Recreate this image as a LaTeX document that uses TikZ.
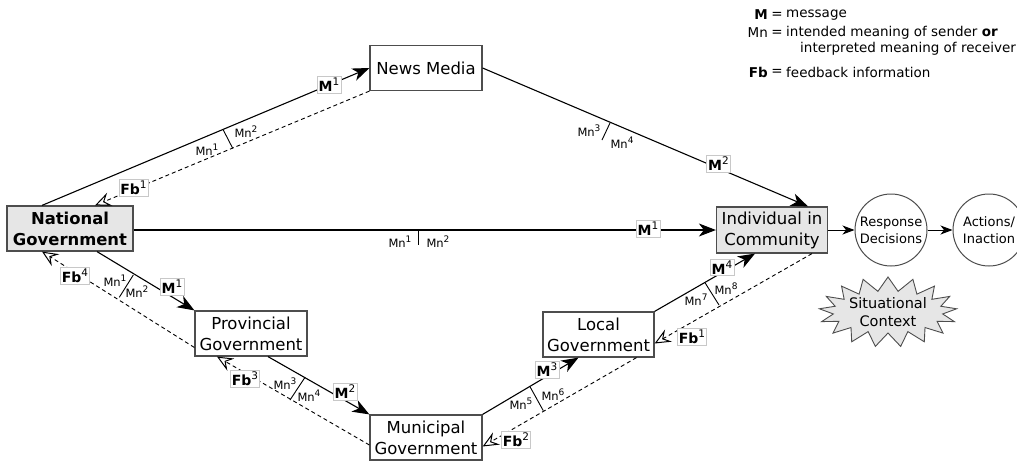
\documentclass[tikz,border=0pt]{standalone}
\usepackage{fontspec}
\setmainfont{DejaVu Sans}
\usetikzlibrary{arrows.meta,shapes.symbols,calc}
\definecolor{gfill}{HTML}{E6E6E6}
\definecolor{boxc}{HTML}{4D4D4D}
\definecolor{lblc}{HTML}{C8C8C8}
\newcommand\sups[1]{\raisebox{0.42em}{\mdseries\fontsize{10.5}{11}\selectfont#1}}
\newcommand\msup[1]{\raisebox{0.42em}{\fontsize{9}{10}\selectfont#1}}
\begin{document}
\begin{tikzpicture}[x=1pt,y=-1pt,
  box/.style={draw=boxc, line width=1.2pt, minimum width=112pt, minimum height=45pt, align=center, inner sep=2pt, font=\fontsize{16.5}{21}\selectfont},
  gbox/.style={box, fill=gfill},
  circ/.style={circle, draw=boxc, line width=1pt, minimum size=72pt, inner sep=0pt, align=center, font=\fontsize{13}{17}\selectfont},
  lbl/.style={draw=lblc, fill=white, inner sep=1.5pt, line width=0.6pt, font=\fontsize{14}{14}\selectfont\bfseries},
  mnl/.style={inner sep=0pt, font=\fontsize{11.5}{12}\selectfont},
  msg/.style={line width=1.1pt, -{Stealth[length=17pt,width=13pt,inset=5pt]}},
  smsg/.style={line width=1pt, -{Stealth[length=12pt,width=9pt,inset=3.5pt]}},
  fb/.style={line width=0.9pt, dash pattern=on 4pt off 3pt, -{Stealth[open,length=16pt,width=14pt,inset=6pt,line width=1pt]}},
  tickl/.style={line width=0.9pt},
  leg/.style={inner sep=0pt, font=\fontsize{13.5}{16}\selectfont}
]
\useasboundingbox (0,0) rectangle (1017,461);

% nodes
\node[gbox, minimum width=126pt, font=\fontsize{16.4}{21}\selectfont\bfseries] (nat) at (70,228.5) {National\\Government};
\node[box] (news) at (426,68) {News Media};
\node[gbox, minimum width=111pt, minimum height=46pt] (ind) at (772,230) {Individual in\\Community};
\node[box] (prov) at (251,333.5) {Provincial\\Government};
\node[box] (mun) at (426,437.5) {Municipal\\Government};
\node[box, minimum width=111pt] (loc) at (598.5,334.5) {Local\\Government};
\node[circ] (resp) at (891,230) {Response\\Decisions};
\node[circ] (act) at (989,230) {Actions/\\Inaction};
\node[starburst, starburst points=17, starburst point height=14pt, random starburst=0, draw=boxc, fill=gfill, line width=0.9pt, align=center, inner sep=0pt, minimum width=123pt, minimum height=70pt, font=\fontsize{14.5}{18.5}\selectfont] (sit) at (888,312) {Situational\\Context};

% connectors
\draw[msg] ([xshift=-28pt]nat.north) -- (news.west);
\draw[fb] (news.south west) -- ([xshift=25pt]nat.north);
\draw[msg] (news.east) -- ([xshift=36pt]ind.north);
\draw[msg] (nat.east |- ind.west) -- (ind.west);
\draw[msg] ([xshift=27pt]nat.south) -- (prov.north west);
\draw[fb] ([yshift=-14pt]prov.west) -- ([xshift=-28pt]nat.south);
\draw[msg] ([xshift=17pt]prov.south) -- (mun.north west);
\draw[fb] ([yshift=-7.5pt]mun.west) -- ([xshift=-34pt]prov.south);
\draw[msg] (mun.north east) -- ([xshift=-20pt]loc.south);
\draw[fb] ([xshift=38pt]loc.south) -- ([yshift=-9pt]mun.east);
\draw[msg] (loc.north east) -- ([xshift=-17pt]ind.south);
\draw[fb] ([xshift=40pt]ind.south) -- ([yshift=-9pt]loc.east);
\draw[smsg] (ind) -- (resp);
\draw[smsg] (resp) -- (act);

% ticks
\draw[tickl] (223.3,130) -- (232.7,148.3);
\draw[tickl] (610,123) -- (602,140);
\draw[tickl] (418,230) -- (418,245);
\draw[tickl] (133.3,275) -- (119.3,297.3);
\draw[tickl] (305,377.3) -- (290,400);
\draw[tickl] (530,386.7) -- (543.3,410.7);
\draw[tickl] (705,282.7) -- (719,305);

% Mn labels
\node[mnl] (mn1a) at (207,150) {Mn\msup{1}};
\node[mnl] (mn2a) at (246,132) {Mn\msup{2}};
\node[mnl] (mn3b) at (589,131) {Mn\msup{3}};
\node[mnl] (mn4b) at (622,143) {Mn\msup{4}};
\node[mnl] (mn1c) at (400,242) {Mn\msup{1}};
\node[mnl] (mn2c) at (438,242) {Mn\msup{2}};
\node[mnl] (mn1d) at (115,281) {Mn\msup{1}};
\node[mnl] (mn2d) at (137,292) {Mn\msup{2}};
\node[mnl] (mn3e) at (285,384) {Mn\msup{3}};
\node[mnl] (mn4e) at (309,396) {Mn\msup{4}};
\node[mnl] (mn5f) at (521,404) {Mn\msup{5}};
\node[mnl] (mn6f) at (553,395) {Mn\msup{6}};
\node[mnl] (mn7g) at (696,300) {Mn\msup{7}};
\node[mnl] (mn8g) at (726,289) {Mn\msup{8}};

% M / Fb labels
\node[lbl] (m1a) at (329,85) {M\sups{1}};
\node[lbl] (fb1a) at (133.5,188) {Fb\sups{1}};
\node[lbl] (m2b) at (718.5,164) {M\sups{2}};
\node[lbl] (m1c) at (648,229) {M\sups{1}};
\node[lbl] (m1d) at (172,287) {M\sups{1}};
\node[lbl] (fb4d) at (75,275.5) {Fb\sups{4}};
\node[lbl] (m2e) at (345,392) {M\sups{2}};
\node[lbl] (fb3e) at (245,378.5) {Fb\sups{3}};
\node[lbl] (m3f) at (547,369.5) {M\sups{3}};
\node[lbl] (fb2f) at (516,440) {Fb\sups{2}};
\node[lbl] (m4g) at (722,267.5) {M\sups{4}};
\node[lbl] (fb1g) at (692,337) {Fb\sups{1}};

% legend
\node[leg, anchor=east] (lgm) at (768,15) {\textbf{M}};
\node[leg] (lge1) at (777,15) {=};
\node[leg, anchor=west] (lgt1) at (786,15) {message};
\node[leg, anchor=east] (lgmn) at (768,33) {Mn};
\node[leg] (lge2) at (777,33) {=};
\node[leg, anchor=west] (lgt2) at (786,33) {intended meaning of sender \textbf{or}};
\node[leg, anchor=west] (lgt3) at (800,49) {interpreted meaning of receiver};
\node[leg, anchor=east] (lgfb) at (768,72) {\textbf{Fb}};
\node[leg] (lge3) at (777,72) {=};
\node[leg, anchor=west] (lgt4) at (786,72) {feedback information};
\end{tikzpicture}
\end{document}
